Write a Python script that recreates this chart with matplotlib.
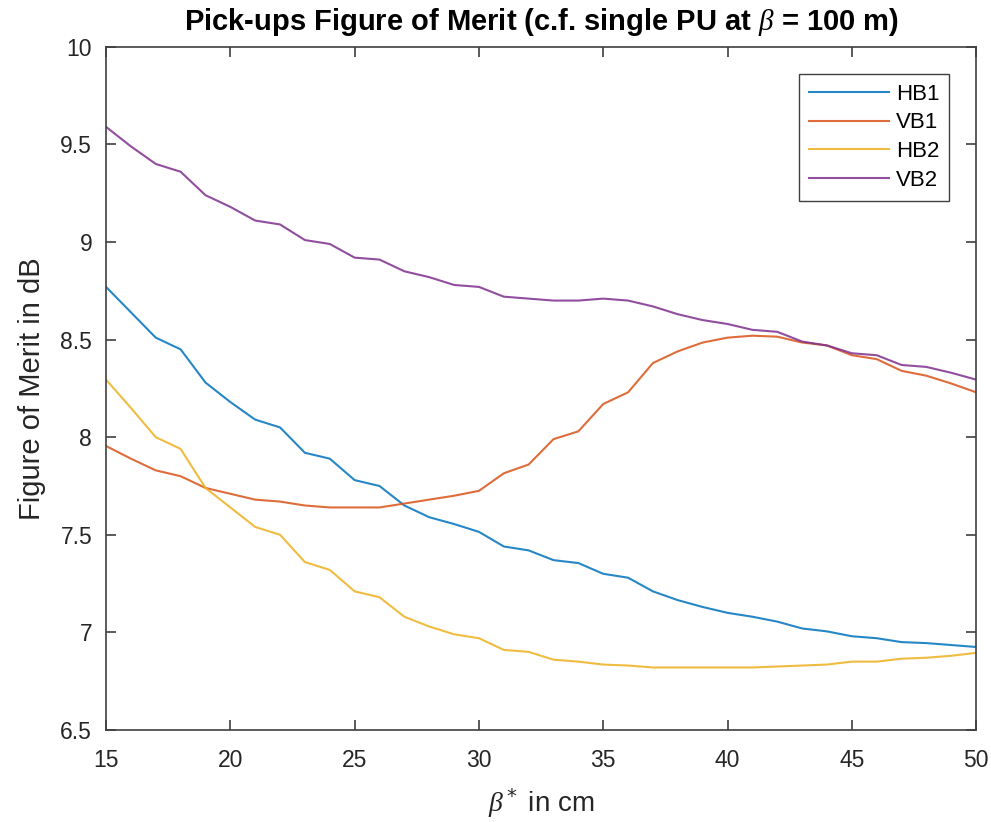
import matplotlib.pyplot as plt

plt.rcParams['font.family'] = ['Liberation Sans', 'DejaVu Sans']
plt.rcParams['mathtext.fontset'] = 'custom'
plt.rcParams['mathtext.it'] = 'Liberation Serif:italic'

beta_star = list(range(15, 51))

hb1 = [8.77, 8.64, 8.51, 8.45, 8.28, 8.18, 8.09, 8.05, 7.92, 7.89,
       7.78, 7.75, 7.65, 7.59, 7.555, 7.515, 7.44, 7.42, 7.37, 7.355,
       7.30, 7.28, 7.21, 7.165, 7.13, 7.10, 7.08, 7.055, 7.02, 7.005,
       6.98, 6.97, 6.95, 6.945, 6.935, 6.925]
vb1 = [7.955, 7.89, 7.83, 7.80, 7.74, 7.71, 7.68, 7.67, 7.65, 7.64,
       7.64, 7.64, 7.66, 7.68, 7.70, 7.725, 7.815, 7.86, 7.99, 8.03,
       8.17, 8.23, 8.38, 8.44, 8.485, 8.51, 8.52, 8.515, 8.485, 8.47,
       8.42, 8.40, 8.34, 8.315, 8.275, 8.23]
hb2 = [8.295, 8.15, 8.00, 7.94, 7.74, 7.64, 7.54, 7.50, 7.36, 7.32,
       7.21, 7.18, 7.08, 7.03, 6.99, 6.97, 6.91, 6.90, 6.86, 6.85,
       6.835, 6.83, 6.82, 6.82, 6.82, 6.82, 6.82, 6.825, 6.83, 6.835,
       6.85, 6.85, 6.865, 6.87, 6.88, 6.895]
vb2 = [9.59, 9.49, 9.40, 9.36, 9.24, 9.18, 9.11, 9.09, 9.01, 8.99,
       8.92, 8.91, 8.85, 8.82, 8.78, 8.77, 8.72, 8.71, 8.70, 8.70,
       8.71, 8.70, 8.67, 8.63, 8.60, 8.58, 8.55, 8.54, 8.49, 8.47,
       8.43, 8.42, 8.37, 8.36, 8.33, 8.295]

series = [("HB1", hb1, "#0072BD"), ("VB1", vb1, "#D95319"),
          ("HB2", hb2, "#EDB120"), ("VB2", vb2, "#7E2F8E")]

fig = plt.figure(figsize=(9.91, 8.22), dpi=100)
ax = fig.add_axes([0.107, 0.112, 0.878, 0.831])

for name, vals, col in series:
    ax.plot(beta_star, vals, color=col, lw=1.5, label=name, alpha=0.85)

ax.set_xlim(15, 50)
ax.set_ylim(6.5, 10)
ax.set_xticks(range(15, 51, 5))
ax.set_yticks([6.5, 7, 7.5, 8, 8.5, 9, 9.5, 10])
ax.set_yticklabels(["6.5", "7", "7.5", "8", "8.5", "9", "9.5", "10"])

gray = "#262626"
for s in ax.spines.values():
    s.set_color("#404040")
    s.set_linewidth(1.2)
ax.tick_params(direction="in", length=7, width=1.2, colors="#404040",
               labelcolor=gray, labelsize=16.5, top=True, right=True)
ax.tick_params(axis="x", pad=14)
ax.tick_params(axis="y", pad=10)

ax.set_xlabel(r"$\beta^*$ in cm", fontsize=20, color=gray, labelpad=10)
ax.set_ylabel("Figure of Merit in dB", fontsize=21, color=gray, labelpad=10)
ax.set_title(r"Pick-ups Figure of Merit (c.f. single PU at $\beta$ = 100 m)",
             fontsize=21, fontweight="bold", color="black", pad=12)

leg = ax.legend(loc="upper right", fontsize=16, handlelength=3.6,
                fancybox=False, framealpha=1, edgecolor="#404040",
                borderaxespad=1.2, labelspacing=0.35, handletextpad=0.3,
                borderpad=0.45)
leg.get_frame().set_linewidth(1.0)

fig.savefig("out.png", dpi=100)
